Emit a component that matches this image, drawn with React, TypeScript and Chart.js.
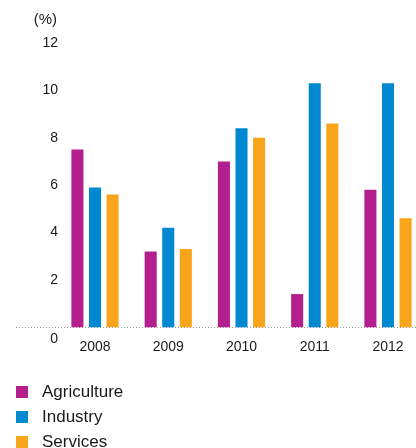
import React, { useEffect, useRef } from "react";
import { Chart, registerables } from "chart.js";

Chart.register(...registerables);

const years = ["2008", "2009", "2010", "2011", "2012"];
const agriculture = [7.5, 3.2, 7.0, 1.4, 5.8];
const industry = [5.9, 4.2, 8.4, 10.3, 10.3];
const services = [5.6, 3.3, 8.0, 8.6, 4.6];
const yTicks = [0, 2, 4, 6, 8, 10, 12];

const seriesNames = ["Agriculture", "Industry", "Services"];
const seriesColors = ["#B41F8E", "#0089D0", "#F8A51C"];

const FONT = "'Liberation Sans', Arial, Helvetica, sans-serif";
const TEXT = "#1a1a1a";

// Draws the dotted baseline, the y tick labels and the unit caption.
const axisDecor = {
  id: "axisDecor",
  beforeDatasetsDraw(chart: any) {
    const { ctx, scales, width } = chart;
    const y0 = Math.round(scales.y.getPixelForValue(0)) + 0.5;
    ctx.save();
    ctx.strokeStyle = "#9a9a9a";
    ctx.lineWidth = 1;
    ctx.setLineDash([1, 2]);
    ctx.beginPath();
    ctx.moveTo(16, y0);
    ctx.lineTo(width, y0);
    ctx.stroke();
    ctx.restore();
  },
  afterDraw(chart: any) {
    const { ctx, scales } = chart;
    ctx.save();
    ctx.fillStyle = TEXT;
    ctx.textAlign = "right";
    ctx.textBaseline = "middle";
    ctx.font = `14px ${FONT}`;
    yTicks.forEach((v) => {
      const y = scales.y.getPixelForValue(v) + (v === 0 ? 12 : 0);
      ctx.fillText(String(v), 58, y);
    });
    ctx.font = `15px ${FONT}`;
    ctx.fillText("(%)", 57, 20);
    ctx.restore();
  },
};

export default function App() {
  const ref = useRef<HTMLCanvasElement>(null);

  useEffect(() => {
    if (!ref.current) return;
    const series = [agriculture, industry, services];
    const chart = new Chart(ref.current, {
      type: "bar",
      data: {
        labels: years,
        datasets: series.map((d, i) => ({
          label: seriesNames[i],
          data: d,
          backgroundColor: seriesColors[i],
          borderWidth: 0,
          categoryPercentage: 0.72,
          barPercentage: 0.686,
          clip: false as any,
        })),
      },
      options: {
        animation: false,
        responsive: false,
        layout: { padding: { left: 95, right: 28, top: 43, bottom: 88 } },
        plugins: { legend: { display: false }, tooltip: { enabled: false } },
        scales: {
          x: {
            offset: false,
            grid: { display: false },
            border: { display: false },
            ticks: { color: TEXT, font: { family: FONT, size: 14 }, padding: 4, maxRotation: 0 },
          },
          y: {
            display: false,
            min: 0,
            max: 12,
          },
        },
      },
      plugins: [axisDecor],
    });
    return () => chart.destroy();
  }, []);

  return (
    <div style={{ position: "fixed", left: 0, top: 0, width: 416, height: 448 }}>
      <canvas ref={ref} width={416} height={448} style={{ display: "block" }} />
      {seriesNames.map((name, i) => (
        <div
          key={name}
          style={{
            position: "absolute",
            left: 16,
            top: 392 + i * 25 - 10,
            height: 20,
            display: "flex",
            alignItems: "center",
            fontFamily: FONT,
            fontSize: 17,
            color: TEXT,
            whiteSpace: "nowrap",
          }}
        >
          <span style={{ width: 12, height: 12, background: seriesColors[i], marginRight: 14, flex: "none" }} />
          {name}
        </div>
      ))}
    </div>
  );
}
